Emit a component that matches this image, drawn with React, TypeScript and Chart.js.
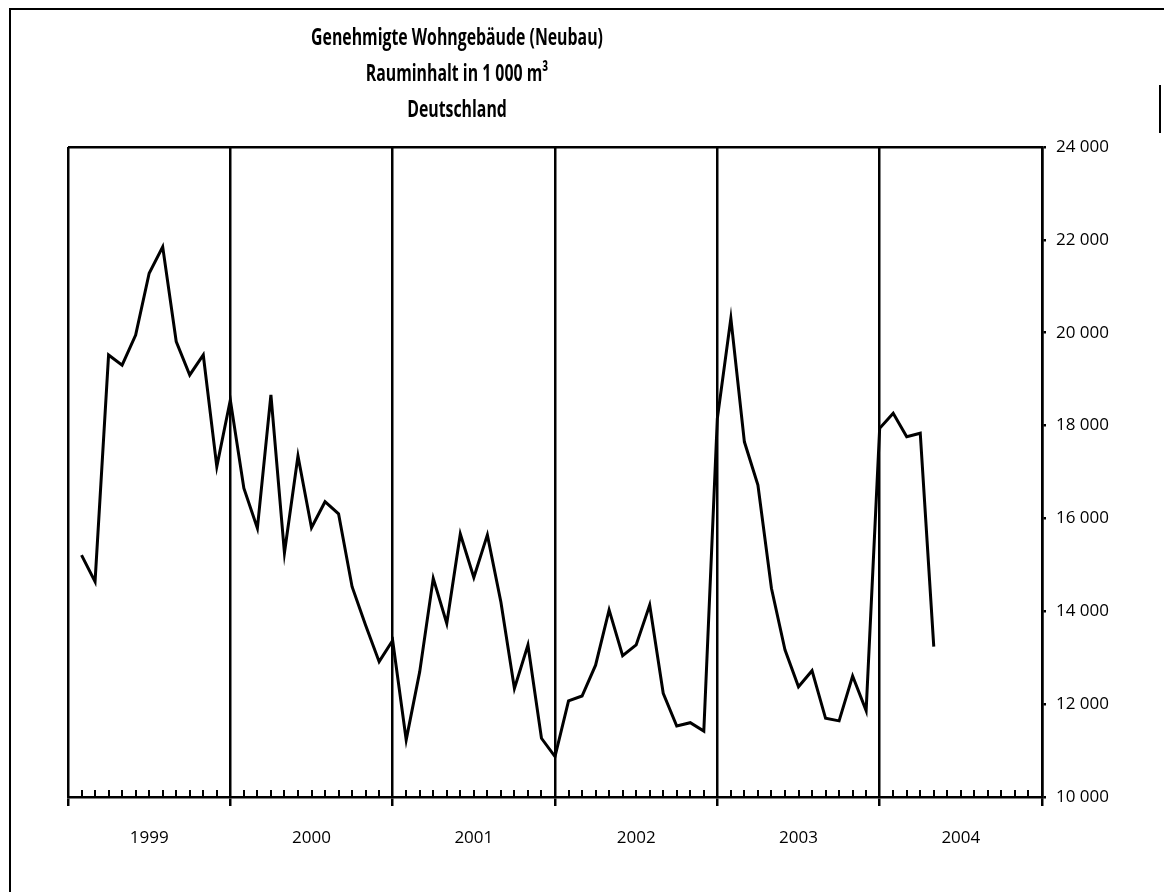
import React, { useEffect, useRef } from "react";
import { Chart, registerables } from "chart.js";

Chart.register(...registerables);

const years = ["1999", "2000", "2001", "2002", "2003", "2004"];
const values1999 = [15210, 14640, 19520, 19300, 19950, 21280, 21850, 19810, 19090, 19520, 17115, 18550];
const values2000 = [16650, 15790, 18660, 15260, 17345, 15800, 16360, 16100, 14530, 13700, 12915, 13370];
const values2001 = [11230, 12700, 14710, 13740, 15665, 14730, 15645, 14200, 12340, 13275, 11265, 10870];
const values2002 = [12070, 12175, 12840, 14030, 13045, 13275, 14135, 12235, 11530, 11600, 11420, 18150];
const values2003 = [20310, 17650, 16720, 14495, 13170, 12375, 12720, 11695, 11640, 12605, 11860, 17940];
const values2004 = [18265, 17760, 17835, 13240];
const yTicks = [10000, 12000, 14000, 16000, 18000, 20000, 22000, 24000];
const titleLines = ["Genehmigte Wohngebäude (Neubau)", "Rauminhalt in 1 000 m³", "Deutschland"];

const monthsPerYear = 12;
const allValues = [...values1999, ...values2000, ...values2001, ...values2002, ...values2003, ...values2004];

const fmt = (v: number) => String(v).replace(/\B(?=(\d{3})+(?!\d))/g, " ");

const minorTicks = {
  id: "minorTicks",
  afterDatasetsDraw(chart: any) {
    const { ctx, scales, chartArea } = chart;
    const xs = scales.x;
    ctx.save();
    ctx.strokeStyle = "#000";
    ctx.lineWidth = 2;
    const total = years.length * monthsPerYear;
    for (let i = 1; i < total; i++) {
      if (i % monthsPerYear === 0) continue;
      const px = Math.round(xs.getPixelForValue(i));
      ctx.beginPath();
      ctx.moveTo(px, chartArea.bottom);
      ctx.lineTo(px, chartArea.bottom - 7);
      ctx.stroke();
    }
    ctx.restore();
  },
};

export default function App() {
  const ref = useRef<HTMLCanvasElement | null>(null);

  useEffect(() => {
    if (!ref.current) return;
    const data = allValues.map((v, i) => ({ x: i + 1, y: v }));
    const total = years.length * monthsPerYear;
    const chart = new Chart(ref.current, {
      type: "line",
      data: {
        datasets: [
          {
            data,
            borderColor: "#000",
            borderWidth: 3,
            pointRadius: 0,
            tension: 0,
            fill: false,
          },
        ],
      },
      options: {
        animation: false,
        responsive: false,
        maintainAspectRatio: false,
        layout: { padding: { left: 68, top: 147, right: 0, bottom: 0 } },
        plugins: { legend: { display: false }, tooltip: { enabled: false }, title: { display: false } },
        scales: {
          x: {
            type: "linear",
            position: "bottom",
            min: 0,
            max: total,
            afterBuildTicks: (scale: any) => {
              scale.ticks = Array.from({ length: total + 1 }, (_, i) => ({ value: i }));
            },
            afterFit: (scale: any) => {
              scale.height = 95;
            },
            ticks: {
              autoSkip: false,
              maxRotation: 0,
              minRotation: 0,
              padding: 22,
              color: "#000",
              font: { family: "'Open Sans', 'Noto Sans', sans-serif", size: 17 },
              callback: (v: any) => (v % monthsPerYear === 6 ? years[(v - 6) / monthsPerYear] : ""),
            },
            grid: {
              display: true,
              drawOnChartArea: true,
              color: (c: any) => (c.tick && c.tick.value % monthsPerYear === 0 ? "#000" : "rgba(0,0,0,0)"),
              tickColor: (c: any) => (c.tick && c.tick.value % monthsPerYear === 0 ? "#000" : "rgba(0,0,0,0)"),
              lineWidth: 2.5,
              tickLength: 9,
            },
            border: { display: true, color: "#000", width: 2.5 },
          },
          y: {
            position: "right",
            min: yTicks[0],
            max: yTicks[yTicks.length - 1],
            afterBuildTicks: (scale: any) => {
              scale.ticks = yTicks.map((v) => ({ value: v }));
            },
            afterFit: (scale: any) => {
              scale.width = 122;
            },
            ticks: {
              padding: 10,
              color: "#000",
              font: { family: "'Open Sans', 'Noto Sans', sans-serif", size: 17 },
              callback: (v: any) => fmt(v),
            },
            grid: {
              display: true,
              drawOnChartArea: true,
              color: (c: any) => (c.tick && c.tick.value === yTicks[yTicks.length - 1] ? "#000" : "rgba(0,0,0,0)"),
              tickColor: "#000",
              lineWidth: 2.5,
              tickLength: 4,
            },
            border: { display: true, color: "#000", width: 2.5 },
          },
        },
      },
      plugins: [minorTicks],
    } as any);
    return () => chart.destroy();
  }, []);

  const titleTops = [21, 57, 93];

  return (
    <div style={{ position: "absolute", left: 0, top: 0, width: 1164, height: 892, background: "#fff", overflow: "hidden" }}>
      <canvas ref={ref} width={1164} height={892} style={{ position: "absolute", left: 0, top: 0, display: "block" }} />
      <div
        style={{
          position: "absolute",
          left: 9,
          top: 8,
          width: 1160,
          height: 900,
          borderLeft: "2px solid #000",
          borderTop: "2px solid #000",
          pointerEvents: "none",
        }}
      />
      <div style={{ position: "absolute", left: 1159, top: 85, width: 2, height: 48, background: "#000" }} />
      {titleLines.map((t, i) => (
        <div
          key={i}
          style={{
            position: "absolute",
            left: 157,
            width: 600,
            top: titleTops[i],
            textAlign: "center",
            fontFamily: "'Open Sans', sans-serif",
            fontWeight: "bold",
            fontSize: 24,
            lineHeight: "30px",
            color: "#000",
            transform: "scaleX(0.66)",
            transformOrigin: "50% 50%",
            whiteSpace: "nowrap",
          }}
        >
          {t}
        </div>
      ))}
    </div>
  );
}
